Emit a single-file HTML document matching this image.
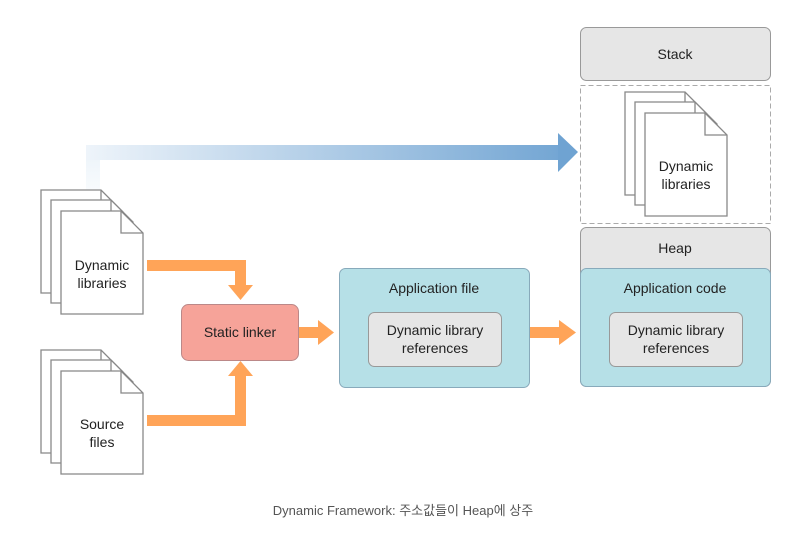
<!DOCTYPE html>
<html><head><meta charset="utf-8"><style>
html,body{margin:0;padding:0;background:#fff;}
svg{display:block;font-family:"Liberation Sans","Noto Sans CJK KR",sans-serif;}
</style></head><body>
<svg width="806" height="551" viewBox="0 0 806 551" xmlns="http://www.w3.org/2000/svg">
<defs>
<linearGradient id="bg" x1="86" y1="0" x2="578" y2="0" gradientUnits="userSpaceOnUse">
<stop offset="0" stop-color="#eef4fa"/><stop offset="1" stop-color="#6fa3d2"/>
</linearGradient>
<linearGradient id="bgv" x1="0" y1="190" x2="0" y2="145" gradientUnits="userSpaceOnUse">
<stop offset="0" stop-color="#f8fbfd"/><stop offset="1" stop-color="#eaf2f9"/>
</linearGradient>
<g id="sheet">
<path d="M0 0 H60 L82 22 V103 H0 Z" fill="#fff" stroke="#888" stroke-width="1.3"/>
<path d="M60 0 V22 H82" fill="none" stroke="#888" stroke-width="1.3"/>
</g>
<g id="doc">
<use href="#sheet" x="0" y="0"/>
<use href="#sheet" x="10" y="10"/>
<use href="#sheet" x="20" y="21"/>
</g>
</defs>

<!-- blue arrow -->
<rect x="86" y="145" width="14" height="45" fill="url(#bgv)"/>
<rect x="86" y="145" width="474" height="15" fill="url(#bg)"/>
<polygon points="558,133 578,152 558,172" fill="#6fa3d2"/>

<!-- left docs -->
<use href="#doc" x="41" y="190"/>
<use href="#doc" x="41" y="350"/>
<text x="102" y="270" font-size="14" text-anchor="middle" fill="#222">Dynamic</text>
<text x="102" y="288" font-size="14" text-anchor="middle" fill="#222">libraries</text>
<text x="102" y="429" font-size="14" text-anchor="middle" fill="#222">Source</text>
<text x="102" y="447" font-size="14" text-anchor="middle" fill="#222">files</text>

<!-- orange arrows -->
<g fill="#ffa458">
<rect x="147" y="260" width="99" height="11"/>
<rect x="235" y="260" width="11" height="26"/>
<polygon points="228,285 253,285 240.5,300"/>
<rect x="147" y="415" width="99" height="11"/>
<rect x="235" y="374" width="11" height="52"/>
<polygon points="228,376 253,376 240.5,361"/>
<rect x="299" y="327" width="20" height="11"/>
<polygon points="318,320 334,332.5 318,345"/>
<rect x="530" y="327" width="30" height="11"/>
<polygon points="559,320 576,332.5 559,345"/>
</g>

<!-- static linker -->
<rect x="181.5" y="304.5" width="117" height="56" rx="7" fill="#f6a399" stroke="#b88" stroke-width="1"/>
<text x="240" y="337" font-size="14" text-anchor="middle" fill="#222">Static linker</text>

<!-- application file -->
<rect x="339.5" y="268.5" width="190" height="119" rx="6" fill="#b6e0e7" stroke="#8ab" stroke-width="1"/>
<text x="434" y="293" font-size="14" text-anchor="middle" fill="#222">Application file</text>
<rect x="368.5" y="312.5" width="133" height="54" rx="6" fill="#e6e6e6" stroke="#999" stroke-width="1"/>
<text x="435" y="335" font-size="14" text-anchor="middle" fill="#222">Dynamic library</text>
<text x="435" y="353" font-size="14" text-anchor="middle" fill="#222">references</text>

<!-- right column -->
<rect x="580.5" y="27.5" width="190" height="53" rx="6" fill="#e6e6e6" stroke="#999" stroke-width="1"/>
<text x="675" y="59" font-size="14" text-anchor="middle" fill="#222">Stack</text>
<rect x="580.5" y="85.5" width="190" height="138" fill="none" stroke="#aaa" stroke-width="1" stroke-dasharray="5,3"/>
<use href="#doc" x="625" y="92"/>
<text x="686" y="171" font-size="14" text-anchor="middle" fill="#222">Dynamic</text>
<text x="686" y="189" font-size="14" text-anchor="middle" fill="#222">libraries</text>
<rect x="580.5" y="227.5" width="190" height="159" rx="6" fill="#e6e6e6" stroke="#999" stroke-width="1"/>
<text x="675" y="253" font-size="14" text-anchor="middle" fill="#222">Heap</text>
<rect x="580.5" y="268.5" width="190" height="118" rx="6" fill="#b6e0e7" stroke="#8ab" stroke-width="1"/>
<text x="675" y="293" font-size="14" text-anchor="middle" fill="#222">Application code</text>
<rect x="609.5" y="312.5" width="133" height="54" rx="6" fill="#e6e6e6" stroke="#999" stroke-width="1"/>
<text x="676" y="335" font-size="14" text-anchor="middle" fill="#222">Dynamic library</text>
<text x="676" y="353" font-size="14" text-anchor="middle" fill="#222">references</text>

<text x="403" y="515" font-size="13" text-anchor="middle" fill="#555">Dynamic Framework: 주소값들이 Heap에 상주</text>
</svg>
</body></html>
